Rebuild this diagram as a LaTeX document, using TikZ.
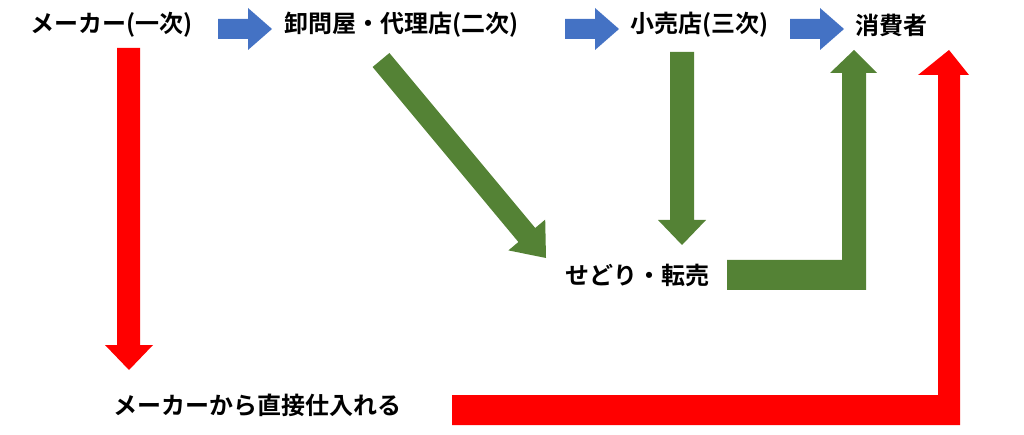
\documentclass[tikz,border=0pt]{standalone}
\usepackage{fontspec}
\newfontfamily\jp{Noto Sans CJK JP}[BoldFont={Noto Sans CJK JP Bold}]
\definecolor{bb}{RGB}{68, 114, 196}
\definecolor{gg}{RGB}{84, 130, 53}
\definecolor{rr}{RGB}{255, 0, 0}

\begin{document}
\begin{tikzpicture}[x=1pt, y=-1pt]
\tikzset{lbl/.style={inner sep=0pt, font=\jp\bfseries\fontsize{24}{28}\selectfont}}
\useasboundingbox (0,0) rectangle (1024,435);
\node (maker) [lbl, anchor=west] at (30, 25) {メーカー(一次)};
\node (whole) [lbl, anchor=west] at (284, 25) {卸問屋・代理店(二次)};
\node (retail) [lbl, anchor=west] at (630, 25) {小売店(三次)};
\node (cons) [lbl, anchor=west] at (855, 25) {消費者};
\node (sedori) [lbl, anchor=west] at (565, 275) {せどり・転売};
\node (direct) [lbl, anchor=west] at (113, 405) {メーカーから直接仕入れる};
% blue arrows
\foreach \x in {218, 565, 790} {
  \fill [bb] (\x, 19) -- (\x+30, 19) -- (\x+30, 8) -- (\x+54, 29) -- (\x+30, 50) -- (\x+30, 39) -- (\x, 39) -- cycle;
}
% red arrows
\fill [rr] (117, 48) -- (140, 48) -- (140, 345) -- (153, 345) -- (129, 370) -- (105, 345) -- (117, 345) -- cycle;
\fill [rr] (452, 395) -- (938, 395) -- (938, 75) -- (918, 75) -- (949, 50) -- (969, 75) -- (960, 75) -- (960, 425) -- (452, 425) -- cycle;
% green arrows
\fill [gg] (372.6, 67) -- (389.4, 53) -- (535.2, 228) -- (545.2, 219.6) -- (546, 258) -- (508.4, 250.4) -- (518.4, 242) -- cycle;
\fill [gg] (670, 52) -- (694, 52) -- (694, 220) -- (706, 220) -- (682, 245) -- (658, 220) -- (670, 220) -- cycle;
\fill [gg] (727, 260) -- (842, 260) -- (842, 73) -- (830, 73) -- (854, 50) -- (877, 73) -- (866, 73) -- (866, 290) -- (727, 290) -- cycle;
\end{tikzpicture}
\end{document}
